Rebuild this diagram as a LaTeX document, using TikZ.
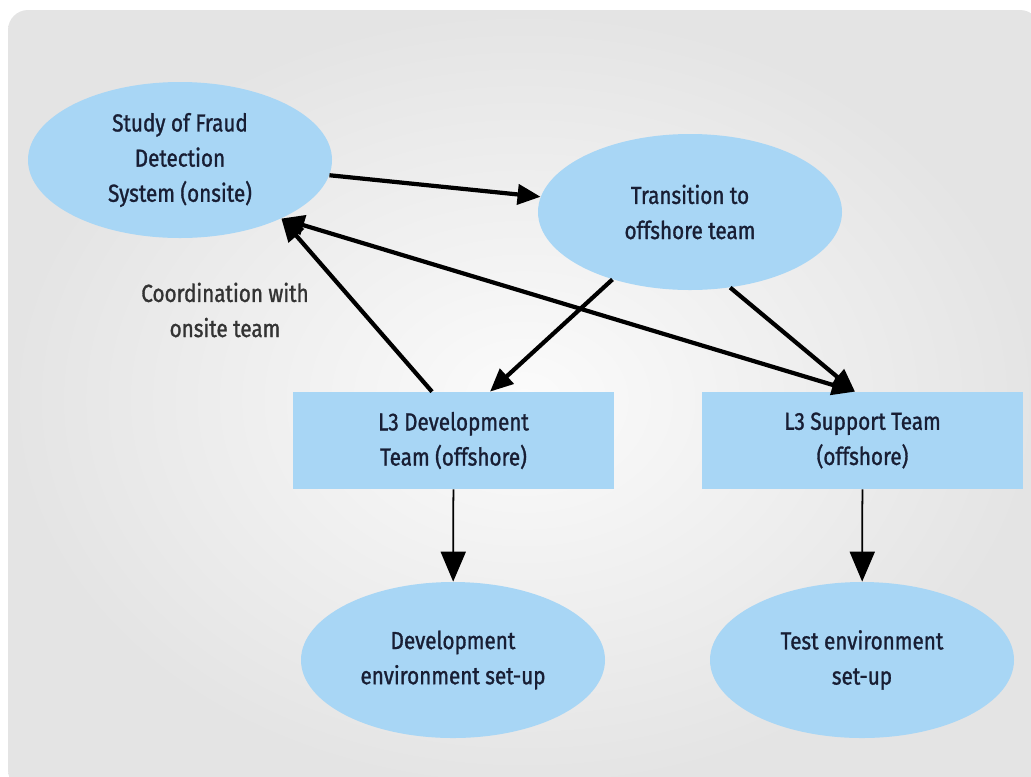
\documentclass[tikz,border=0pt]{standalone}
\usepackage{fontspec}
\setmainfont{Fira Sans}[FakeStretch=0.84, FakeBold=1.2]
\usepackage{tikz}
\usetikzlibrary{shapes,arrows}
\usetikzlibrary{arrows.meta}
\definecolor{fdblue}{RGB}{168,214,245}
\definecolor{fdtext}{RGB}{24,30,52}
\definecolor{fdpanel}{RGB}{228,228,228}
\tikzset{
  phase/.style={ellipse, fill=fdblue, inner sep=0pt, minimum width=6.08cm, minimum height=3.12cm, align=center, text=fdtext, font=\fontsize{14}{20}\selectfont},
  team/.style={rectangle, fill=fdblue, inner sep=0pt, minimum width=6.42cm, minimum height=1.94cm, align=center, text=fdtext, font=\fontsize{14}{20}\selectfont},
  link/.style={line width=2.4pt, -{Triangle[length=0.46cm,width=0.4cm]}},
  biglink/.style={line width=2.4pt, {Triangle[length=0.46cm,width=0.4cm]}-{Triangle[length=0.46cm,width=0.4cm]}},
  thinlink/.style={line width=1pt, -{Triangle[length=0.6cm,width=0.5cm]}}
}
\newcommand{\fdphase}[3] {\node at (#1) (#2) [phase] {#3};}
\newcommand{\fdteam}[3] {\node at (#1) (#2) [team] {#3};}
\newcommand{\fdlink}[3] {\draw [#3] (#1) -- (#2);}

\begin{document}
\begin{tikzpicture}
\useasboundingbox (0,0) rectangle (20.62,-15.52);
\shade [inner color=white!97!gray, outer color=fdpanel, rounded corners=0.4cm] (0.16,-0.2) rectangle (20.8,-15.8);

\fdphase {3.6,-3.2} {study} {Study of Fraud\\Detection\\System (onsite)};
\fdphase {13.8,-4.24} {trans} {Transition to\\offshore team};
\fdteam {9.07,-8.81} {l3dev} {L3 Development\\Team (offshore)};
\fdteam {17.25,-8.81} {l3sup} {L3 Support Team\\(offshore)};
\fdphase {9.06,-13.2} {devenv} {Development\\environment set-up};
\fdphase {17.24,-13.2} {testenv} {Test environment\\set-up};
\node at (4.5,-6.2) (coord) [align=center, text=black!80, font=\fontsize{14}{20}\selectfont] {Coordination with\\onsite team};

\path (l3dev.north) ++(-0.43,0) coordinate (devout);
\path (l3dev.north) ++(0.73,0) coordinate (devin);
\path (l3sup.north) ++(-0.15,0) coordinate (supin);

\fdlink{study}{trans}{link};
\fdlink{devout}{study.-30.6}{link};
\fdlink{study.-30.6}{supin}{biglink};
\fdlink{trans.221.6}{devin}{link};
\fdlink{trans.-62}{supin}{link};
\fdlink{l3dev}{devenv}{thinlink};
\fdlink{l3sup}{testenv}{thinlink};
\end{tikzpicture}
\end{document}
